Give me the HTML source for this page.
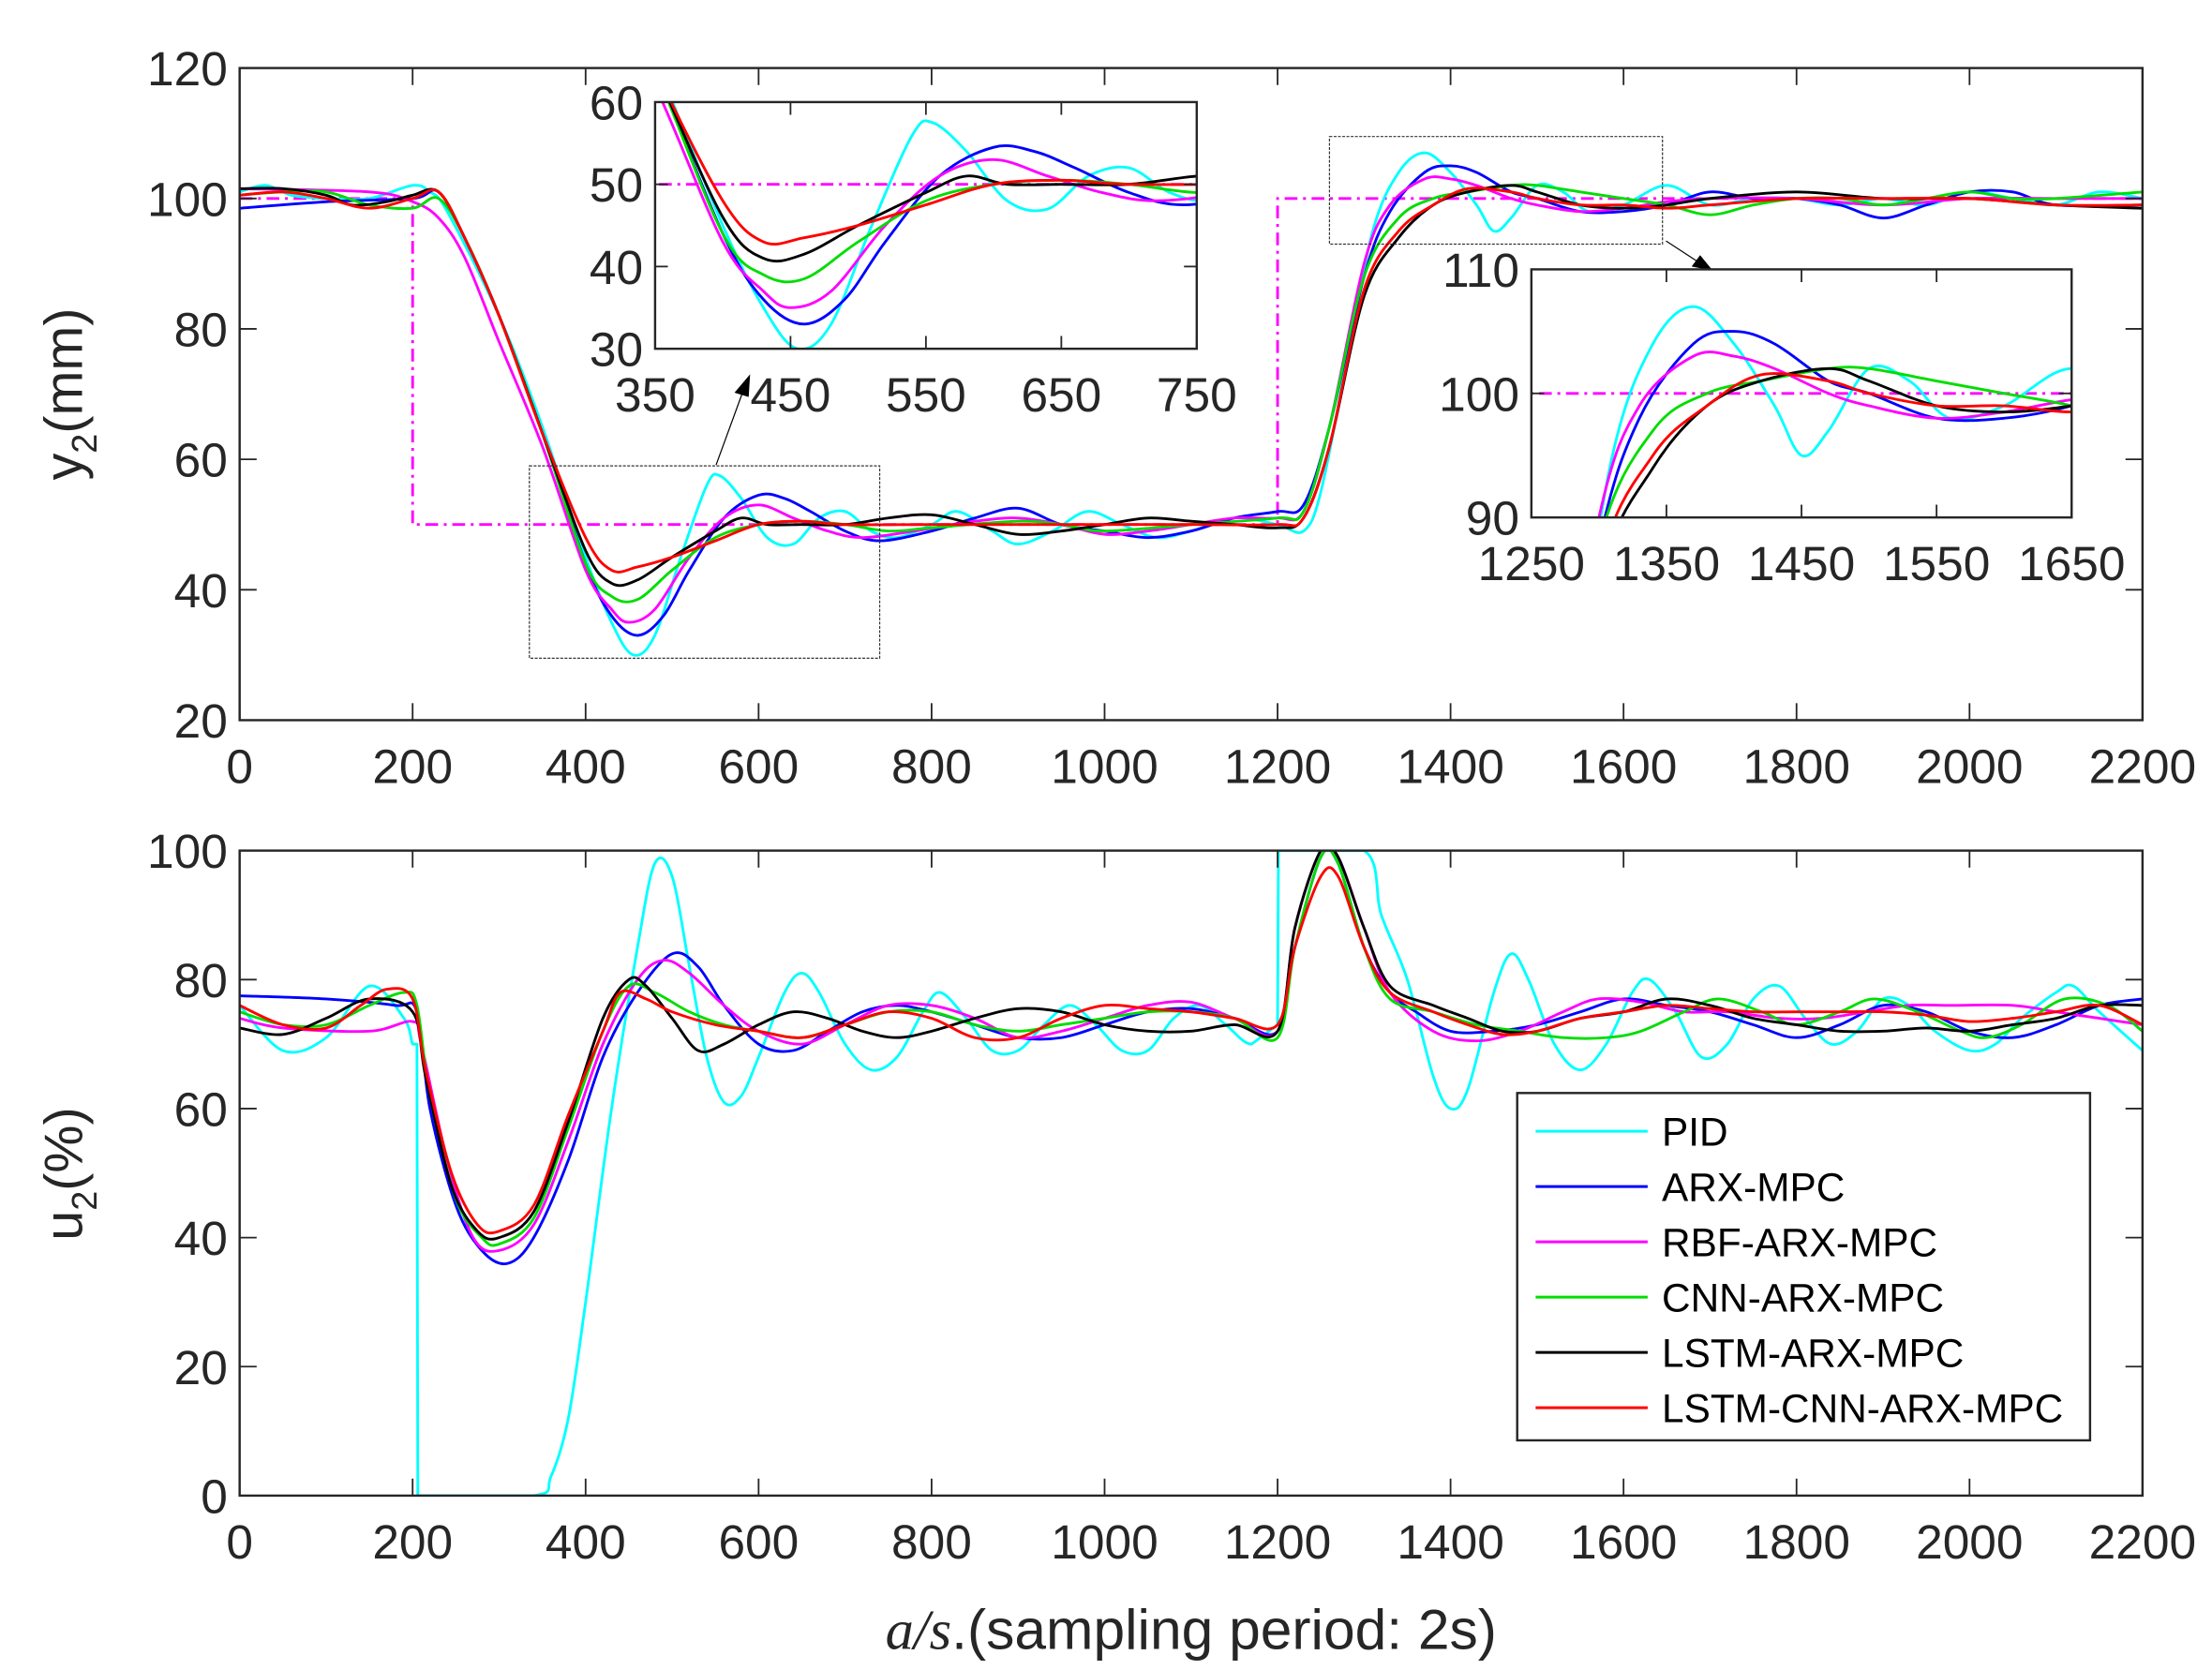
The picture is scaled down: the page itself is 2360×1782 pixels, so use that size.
<!DOCTYPE html>
<html><head><meta charset="utf-8"><style>
html,body{margin:0;padding:0;background:#fff}
svg{display:block}
text{font-family:"Liberation Sans",Arial,sans-serif;fill:#262626}
</style></head><body>
<svg id="fig" width="2360" height="1782" viewBox="0 0 1560 1178" preserveAspectRatio="none" xmlns="http://www.w3.org/2000/svg">
<defs>
<clipPath id="cTop"><rect x="169" y="48" width="1342" height="460"/></clipPath>
<clipPath id="cBot"><rect x="169" y="600" width="1342" height="455"/></clipPath>
<clipPath id="cIn1"><rect x="462" y="72" width="382" height="174"/></clipPath>
<clipPath id="cIn2"><rect x="1080" y="190" width="381" height="175"/></clipPath>
</defs>
<g id="layer"></g>
</svg>
<script>
// ---- data ----
const seriesNames=["PID","ARX-MPC","RBF-ARX-MPC","CNN-ARX-MPC","LSTM-ARX-MPC","LSTM-CNN-ARX-MPC"];
const seriesColors=["#00ffff","#0000ff","#ff00ff","#00dd00","#000000","#ff0000"];
const ytPID=[0,30,60,100,150,200,220,240,300,350,400,430,455,480,510,540,555,580,610,640,670,700,730,760,800,830,870,900,940,980,1020,1060,1100,1150,1200,1230,1250,1280,1310,1340,1370,1400,1430,1450,1470,1500,1530,1560,1600,1650,1700,1750,1800,1850,1900,1950,2000,2050,2100,2150,2200];
const yvPID=[101,102,100.5,100,100,102,101,98,82,65,45,35,30,33,45,56,57.5,54,48,47,51,52,49,48,50,52,49,47,49,52,50,48,49,51,50,49,55,75,95,104,107,104,99,95,97,102,101,98,99,102,99,100,100,99,100,99,101,100,99,101,100];
const ytARX=[0,100,200,230,260,300,350,400,430,460,490,520,560,600,630,660,700,740,800,850,900,950,1000,1050,1100,1150,1200,1230,1260,1300,1330,1370,1400,1430,1470,1500,1550,1600,1650,1700,1750,1800,1850,1900,1950,2000,2050,2100,2200];
const yvARX=[98.5,99.5,100,101,94,82,64,44,36,33,36,43,51,54.5,54,52,49,47.5,49,51,52.5,50,49,48,49,51,52,53,65,88,98,104,105,104,101,100,98,98,99,101,100,100,99,97,99,101,101,99,99];
const ytRBF=[0,150,200,230,260,300,350,400,430,450,480,520,560,600,640,680,720,780,850,900,950,1000,1050,1100,1150,1200,1230,1260,1300,1330,1370,1400,1430,1470,1500,1550,1600,1650,1700,1800,1900,2000,2100,2200];
const yvRBF=[101.5,101,99.5,97,91,78,62,43,37,35,37,45,51,53,51,49,48,49,50.5,51,50,48.5,49,50,51,51,52,65,90,99,103,103,102,100,99,98,98.5,99.5,100,100,99,100,100,100];
const ytCNN=[0,50,100,150,200,230,260,300,350,400,430,460,500,550,600,650,700,750,800,900,950,1000,1100,1200,1230,1260,1300,1340,1380,1420,1470,1500,1550,1600,1650,1700,1750,1800,1850,1900,1950,2000,2050,2100,2200];
const yvCNN=[100.5,101,101,99,98.5,100,94,82,64,44,39,38.5,43,48,50,50.5,50,49,49.5,50.5,50,49,50,51,52,65,88,97,100,101,102,102,101,100,99,97.5,99,100,100,99,100,101,100,100,101];
const ytLSTM=[0,50,100,130,170,200,230,260,300,350,400,430,460,500,550,580,610,650,700,750,800,850,900,950,1000,1050,1100,1150,1200,1230,1260,1300,1340,1380,1420,1470,1500,1550,1600,1650,1700,1800,1900,2000,2100,2200];
const yvLSTM=[101.5,101.5,100.5,99,99.5,100.5,101,94,82,64,46,41,41.5,45,49,51,50,50,50,51,51.5,50,48.5,49,50,51,50.5,50,49.5,51,62,85,94,99,101,102,101,99,98.5,99,100,101,100,100,99,98.5];
const ytLC=[0,50,100,150,200,230,260,300,350,400,430,460,500,550,600,650,700,800,900,1000,1100,1200,1230,1260,1300,1340,1380,1420,1470,1500,1550,1600,1650,1700,1800,1900,2000,2100,2200];
const yvLC=[100.5,101,100,98.5,100,101,94,82,64,48,43,43.5,45,47.5,50,50.5,50,50,50,50,50,50,51,62,86,95,99,101.5,101,100,99,99,98.5,99,100,100,100,99,99];
const spT=[0,200,200,1200,1200,2200];
const spV=[100,100,50,50,100,100];
const utPID=[0,50,100,150,190,200,205,206,340,360,380,400,430,460,480,500,520,540,560,580,600,630,650,670,700,730,760,790,810,840,870,900,930,960,990,1020,1050,1080,1110,1140,1170,1200,1201,1300,1320,1350,1380,1400,1420,1450,1470,1490,1520,1550,1580,1610,1630,1660,1690,1720,1750,1780,1810,1840,1870,1900,1930,1960,2000,2030,2060,2100,2120,2150,2200];
const uvPID=[76,69,71,79,74,70,70,0,0,3,12,30,60,85,98,96,82,68,61,62,68,78,81,78,70,66,68,75,78,74,69,69,73,76,73,69,69,74,76,73,70,73,100,100,90,80,65,60,63,78,84,80,70,66,70,78,80,75,68,70,77,79,74,70,72,77,76,72,69,70,74,78,79,75,69];
const utARX=[0,100,180,205,220,250,280,310,340,380,420,460,500,530,560,600,640,680,720,760,800,850,900,950,1000,1050,1100,1150,1200,1220,1250,1270,1300,1330,1360,1400,1450,1500,1550,1600,1650,1700,1750,1800,1850,1900,1950,2000,2050,2100,2150,2200];
const uvARX=[77.5,77,76,75,60,45,38,36,40,52,68,78,84,82,76,70,69,72,75,76,75,73,71,71,73,75,75.5,74,72,85,99,98,85,78,75,72,72,73,75,77,76,75,73,71,73,76,75,72,71,73,76,77];
const utRBF=[0,50,150,200,210,240,270,300,340,380,420,460,490,520,560,600,650,700,750,800,850,900,950,1000,1050,1100,1150,1200,1220,1250,1270,1300,1330,1380,1430,1480,1530,1570,1620,1670,1720,1780,1830,1880,1930,1980,2050,2100,2150,2200];
const uvRBF=[74,72.5,72,73.5,70,52,40,38,42,55,70,80,83,81,76,72,70,73,76,76,74,71,72,74,76,76.5,74,72,88,100,99,88,78,72,70.5,72,75,77,76.5,75,75,74,74,75,76,76,76,75,74,73];
const utCNN=[0,50,100,150,190,205,220,250,280,300,340,380,420,450,480,520,560,600,650,700,750,800,850,900,950,1000,1050,1100,1150,1200,1220,1250,1270,1300,1330,1380,1430,1480,1530,1580,1620,1670,1710,1760,1800,1850,1890,1940,1990,2020,2060,2110,2160,2200];
const uvCNN=[75,73,73,76,78,76,62,46,40,39,43,57,72,79,78,75,73,72,71,73,75,75,73,72,73,74,75,75,74,71,85,99,98,85,77,75,73,72,71,71,72,75,77,75,73,75,77,75,72,71,73,77,76,72];
const utLSTM=[0,50,100,150,200,215,245,275,300,340,380,420,450,470,500,530,560,600,640,680,720,760,800,850,900,950,1000,1050,1100,1150,1200,1220,1250,1270,1300,1330,1380,1420,1460,1500,1550,1600,1650,1700,1750,1800,1850,1900,1950,2000,2050,2100,2150,2200];
const uvLSTM=[72.5,71.5,74,77,75,65,48,41,40,44,58,74,80,79,74,69,70,73,75,74,72,71,72,74,75.5,75,73,72,72,73,72,88,100,99,88,79,76,74,72,72,74,75,77,76,74,73,72,72,72.5,72,73,74,76,76];
const utLC=[0,50,100,140,170,200,215,245,275,300,340,380,420,440,470,500,550,600,650,700,750,800,850,900,950,1000,1050,1100,1150,1200,1220,1250,1270,1300,1330,1380,1420,1460,1500,1550,1600,1650,1700,1750,1800,1850,1900,1950,2000,2050,2100,2150,2200];
const uvLC=[76,73,72.5,76,78.5,77,66,50,42,41,45,59,72,78,77,75,73,72,71,73,75,74,71,71,74,76,75.5,75,74,73,85,96,96,85,78,75,73,71.5,72,74,75,76,75.5,75,75,75,75,74.5,73.5,74,75,76,73];
const xTicks=[0,200,400,600,800,1000,1200,1400,1600,1800,2000,2200];
const yTopTicks=[20,40,60,80,100,120];
const yBotTicks=[0,20,40,60,80,100];
const in1XTicks=[350,450,550,650,750];
const in1YTicks=[30,40,50,60];
const in2XTicks=[1250,1350,1450,1550,1650];
const in2YTicks=[90,100,110];

const ySeries=[[ytPID,yvPID],[ytARX,yvARX],[ytRBF,yvRBF],[ytCNN,yvCNN],[ytLSTM,yvLSTM],[ytLC,yvLC]];
const uSeries=[[utPID,uvPID],[utARX,uvARX],[utRBF,uvRBF],[utCNN,uvCNN],[utLSTM,uvLSTM],[utLC,uvLC]];

const NS="http://www.w3.org/2000/svg";
const L=document.getElementById('layer');
function mk(tag,attrs,parent){const e=document.createElementNS(NS,tag);for(const k in attrs)e.setAttribute(k,attrs[k]);(parent||L).appendChild(e);return e;}
function lin(d0,d1,r0,r1){return v=>r0+(v-d0)*(r1-r0)/(d1-d0);}
function pathD(ts,vs,sx,sy){
  const P=ts.map((t,i)=>[sx(t),sy(vs[i])]);
  let d="M"+P[0][0].toFixed(2)+","+P[0][1].toFixed(2);
  for(let i=0;i<P.length-1;i++){
    const p0=P[i-1]||P[i],p1=P[i],p2=P[i+1],p3=P[i+2]||P[i+1];
    const dt=ts[i+1]-ts[i];
    const jump=dt<3||(i>0&&ts[i]-ts[i-1]<3)||(i+2<ts.length&&ts[i+2]-ts[i+1]<3);
    if(jump){d+="L"+p2[0].toFixed(2)+","+p2[1].toFixed(2);continue;}
    const c1=[p1[0]+(p2[0]-p0[0])/6,p1[1]+(p2[1]-p0[1])/6];
    const c2=[p2[0]-(p3[0]-p1[0])/6,p2[1]-(p3[1]-p1[1])/6];
    d+="C"+c1[0].toFixed(2)+","+c1[1].toFixed(2)+" "+c2[0].toFixed(2)+","+c2[1].toFixed(2)+" "+p2[0].toFixed(2)+","+p2[1].toFixed(2);
  }
  return d;
}
function txt(x,y,s,size,anchor,parent,name){const e=mk('text',{x:x,y:y,'font-size':size,'text-anchor':anchor||'middle'},parent);e.textContent=s;
  
  return e;}

function axes(name,x0,x1,y0,y1,xd,yd,xt,yt,clip,series,sp,fs,tickLen,lw){
  const g=mk('g',{});
  
  
  const sx=lin(xd[0],xd[1],x0,x1), sy=lin(yd[0],yd[1],y1,y0);
  mk('rect',{x:x0,y:y0,width:x1-x0,height:y1-y0,fill:'#fff'},g);
  const dg=mk('g',{'clip-path':'url(#'+clip+')'},g);
  if(sp){const e=mk('path',{d:pathD(sp[0],sp[1],sx,sy),fill:'none',stroke:'#ff00ff','stroke-width':lw,'stroke-dasharray':'9,4,2,4'},dg);
    
    }
  series.forEach((s,i)=>{const e=mk('path',{d:pathD(s[0],s[1],sx,sy),fill:'none',stroke:seriesColors[i],'stroke-width':lw,'stroke-linejoin':'round'},dg);
    
    });
  xt.forEach(v=>{const X=sx(v);mk('line',{x1:X,x2:X,y1:y1,y2:y1-tickLen,stroke:'#262626','stroke-width':1.2},g);mk('line',{x1:X,x2:X,y1:y0,y2:y0+tickLen,stroke:'#262626','stroke-width':1.2},g);
    txt(X,y1+fs*1.3,String(v),fs,'middle',g,'x-tick-label');});
  yt.forEach(v=>{const Y=sy(v);mk('line',{x1:x0,x2:x0+tickLen,y1:Y,y2:Y,stroke:'#262626','stroke-width':1.2},g);mk('line',{x1:x1,x2:x1-tickLen,y1:Y,y2:Y,stroke:'#262626','stroke-width':1.2},g);
    txt(x0-fs*0.25,Y+fs*0.36,String(v),fs,'end',g,'y-tick-label');});
  mk('rect',{x:x0,y:y0,width:x1-x0,height:y1-y0,fill:'none',stroke:'#262626','stroke-width':1.6},g);
  return {sx,sy};
}
const topAx=axes('top-axes-y2',169,1511,48,508,[0,2200],[20,120],xTicks,yTopTicks,'cTop',ySeries,[spT,spV],34,12,1.9);
let b1=mk('rect',{x:topAx.sx(335),y:topAx.sy(59),width:topAx.sx(740)-topAx.sx(335),height:topAx.sy(29.5)-topAx.sy(59),fill:'none',stroke:'#333','stroke-width':0.8,'stroke-dasharray':'2,1'});


let b2=mk('rect',{x:topAx.sx(1260),y:topAx.sy(109.5),width:topAx.sx(1645)-topAx.sx(1260),height:topAx.sy(93)-topAx.sy(109.5),fill:'none',stroke:'#333','stroke-width':0.8,'stroke-dasharray':'2,1'});


let a1=mk('line',{x1:505,y1:328,x2:524,y2:276,stroke:'#000','stroke-width':0.8});


mk('polygon',{points:'529,264 518,277 528,280',fill:'#000'});
let a2=mk('line',{x1:1175,y1:170,x2:1198,y2:185,stroke:'#000','stroke-width':0.8});


mk('polygon',{points:'1208,191 1193,188 1199,180',fill:'#000'});
axes('inset-1',462,844,72,246,[350,750],[30,60],in1XTicks,in1YTicks,'cIn1',ySeries,[spT,spV],34,9,1.9);
axes('inset-2',1080,1461,190,365,[1250,1650],[90,110],in2XTicks,in2YTicks,'cIn2',ySeries,[spT,spV],34,9,1.9);
axes('bottom-axes-u2',169,1511,600,1055,[0,2200],[0,100],xTicks,yBotTicks,'cBot',uSeries,null,34,12,1.9);
let yl1=mk('text',{x:0,y:0,'font-size':38,'text-anchor':'middle',transform:'translate(58,278) rotate(-90)'});
yl1.innerHTML='y<tspan font-size="25" dy="10">2</tspan><tspan dy="-10">(mm)</tspan>';


let yl2=mk('text',{x:0,y:0,'font-size':38,'text-anchor':'middle',transform:'translate(58,828) rotate(-90)'});
yl2.innerHTML='u<tspan font-size="25" dy="10">2</tspan><tspan dy="-10">(%)</tspan>';


let xl=mk('text',{x:840,y:1163,'font-size':40,'text-anchor':'middle'});
xl.innerHTML='<tspan font-family="Liberation Serif" font-style="italic">a/s</tspan>.(sampling period: 2s)';


const lg=mk('g',{});


mk('rect',{x:1070,y:771,width:404,height:245,fill:'#fff',stroke:'#262626','stroke-width':1.6},lg);
seriesNames.forEach((n,i)=>{const Y=798+i*39;
  const ln=mk('line',{x1:1083,x2:1162,y1:Y,y2:Y,stroke:seriesColors[i],'stroke-width':2},lg);
  
  
  const t=mk('text',{x:1172,y:Y+10,'font-size':28,'text-anchor':'start'},lg);t.textContent=n;t.style.fill='#000';
  
  
});
</script>
</body></html>
